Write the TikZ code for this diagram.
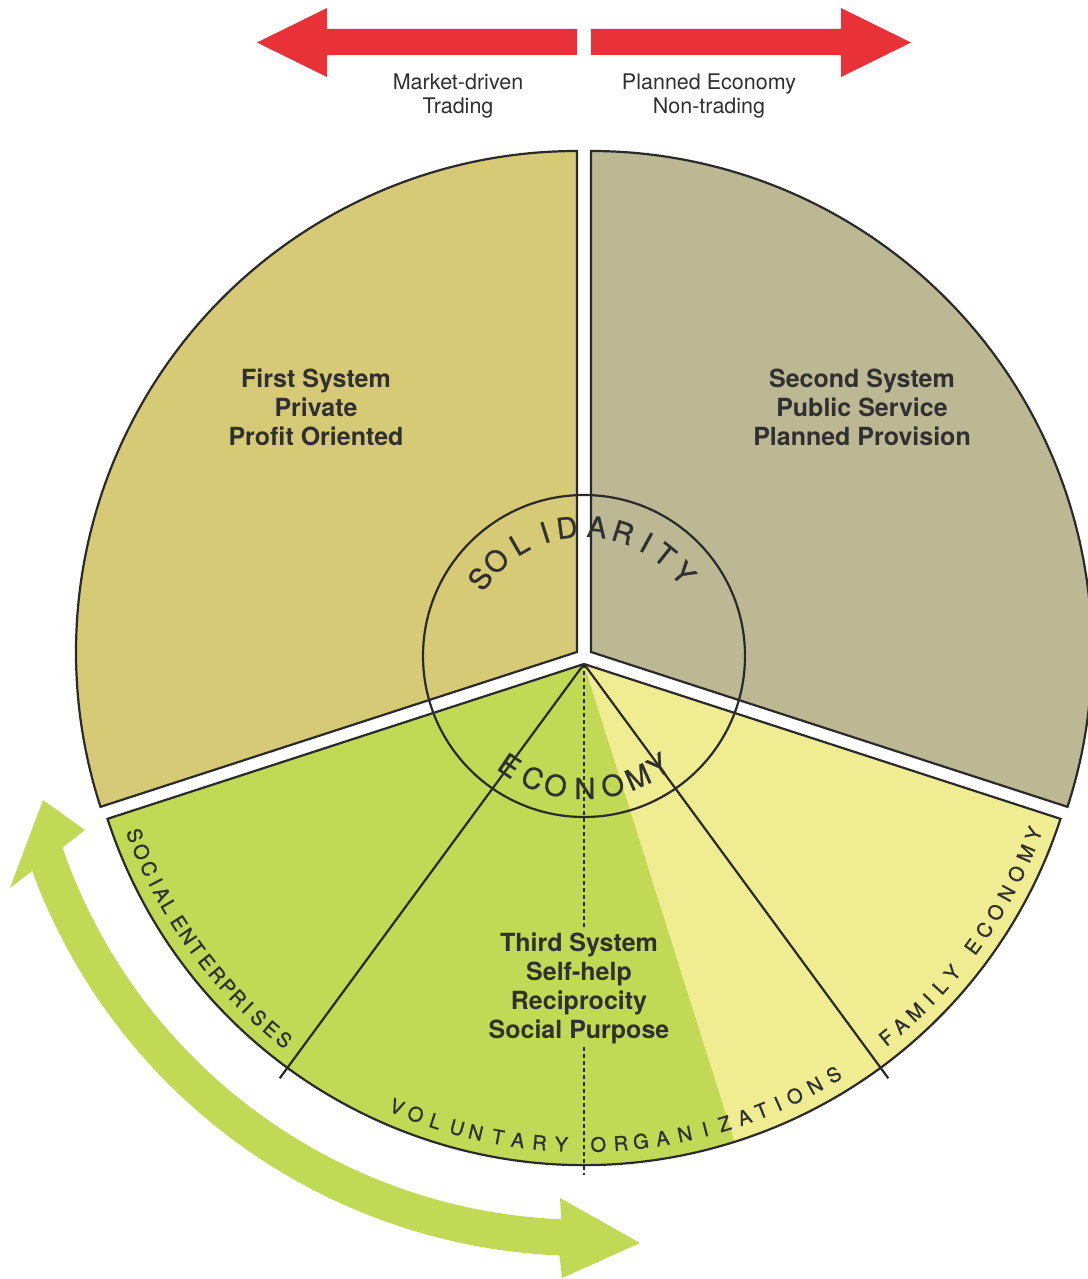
\documentclass[tikz,border=0pt]{standalone}
\usepackage{fontspec}
\setmainfont{TeX Gyre Heros}
\newfontfamily\letterfont[FakeBold=0.8]{TeX Gyre Heros}
\definecolor{tanc}{HTML}{D7CA76}
\definecolor{grayc}{HTML}{BCB894}
\definecolor{greenc}{HTML}{C2D956}
\definecolor{yellowc}{HTML}{F0EC92}
\definecolor{redc}{HTML}{E93238}
\definecolor{inkc}{HTML}{2A2A2A}
\definecolor{textc}{HTML}{303030}
\tikzset{
 sectorline/.style={draw=inkc, line width=2.2pt, line join=miter},
 divider/.style={draw=inkc, line width=2.2pt},
 dashdiv/.style={draw=inkc, line width=2.4pt, dash pattern=on 4pt off 3pt},
 ring/.style={draw=inkc, line width=2.2pt},
 bigtext/.style={font=\fontsize{25}{29}\selectfont\bfseries, text=textc, align=center, inner sep=3pt},
 toptext/.style={font=\fontsize{21.5}{24}\selectfont, text=textc, align=center},
 ringletter/.style={font=\letterfont\fontsize{29}{29}\selectfont, text=textc, inner sep=0pt, anchor=base},
 rimletter/.style={font=\letterfont\fontsize{20}{20}\selectfont, text=textc, inner sep=0pt, anchor=base},
}
\begin{document}
\begin{tikzpicture}[x=1pt,y=1pt]
\useasboundingbox (0,0) rectangle (1087,-1279);
\fill[white] (0,0) rectangle (1087,-1279);

% red arrows
\fill[redc] (577,-29) -- (327,-29) -- (327,-8) -- (257,-42.5) -- (327,-77) -- (327,-55) -- (577,-55) -- cycle;
\fill[redc] (591,-29) -- (841,-29) -- (841,-8) -- (911,-42.5) -- (841,-77) -- (841,-55) -- (591,-55) -- cycle;
\node[toptext] (mkt) at (458,-96) {Market-driven\\Trading};
\node[toptext] (plan) at (709,-96) {Planned Economy\\Non-trading};

% apexes and centre
\coordinate (A1) at (577,-652);
\coordinate (A2) at (591,-652);
\coordinate (A3) at (584,-664);
\coordinate (O) at (584,-656);
\coordinate (C) at (584,-668);

% sectors
\filldraw[sectorline, fill=tanc] (A1) -- ++(90:501) arc[start angle=90, end angle=198, radius=501] -- cycle;
\filldraw[sectorline, fill=grayc] (A2) -- ++(-18:501) arc[start angle=-18, end angle=90, radius=501] -- cycle;
\fill[greenc] (A3) -- ++(198:501) arc[start angle=198, end angle=342, radius=501] -- cycle;
\fill[yellowc] (A3) -- ++(287.5:501) arc[start angle=287.5, end angle=342, radius=501] -- cycle;
\draw[sectorline] (A3) -- ++(198:501) arc[start angle=198, end angle=342, radius=501] -- cycle;

% sub-divisions of third system
\coordinate (SEend) at ([shift={(233.7:514)}]A3);
\coordinate (FEend) at ([shift={(306.3:514)}]A3);
\coordinate (DEnd) at (584,-1175);
\draw[divider] (A3) -- (SEend);
\draw[divider] (A3) -- (FEend);

\node[bigtext] (first) at (316,-407) {First System\\Private\\Profit Oriented};
\node[bigtext] (second) at (862,-407) {Second System\\Public Service\\Planned Provision};
\node[bigtext] (third) at (579,-988) {Third System\\Self-help\\Reciprocity\\Social Purpose};
\draw[dashdiv] (A3) -- (A3 |- third.north);
\draw[dashdiv] (A3 |- third.south) -- (DEnd);

% inner ring
\draw[ring] (O) circle[radius=161];
\foreach \ch/\a [count=\i] in {S/143.3,O/132.8,L/120,I/107.6,D/97.6,A/84.2,R/72.4,I/61.2,T/51.4,Y/39.8}
  \node[ringletter, rotate=\a-90] (sol\i) at ([shift={(\a:119)}]O) {\ch};
\foreach \ch/\a [count=\i] in {E/235.8,C/247.2,O/257.6,N/270.4,O/282.5,M/294,Y/304.2}
  \node[ringletter, rotate=\a+90] (eco\i) at ([shift={(\a:143)}]O) {\ch};

% rim labels
\foreach \ch/\a [count=\i] in {S/200.9,O/203.0,C/205.2,I/207.0,A/208.6,L/210.3,E/212.6,N/214.5,T/216.3,E/218.3,R/220.3,P/222.2,R/224.0,I/225.6,S/227.4,E/229.4,S/231.4}
  \node[rimletter, rotate=\a+90] (se\i) at ([shift={(\a:488)}]A3) {\ch};
\foreach \ch/\a [count=\i] in {V/247.1,O/249.5,L/252.0,U/254.7,N/257.0,T/259.7,A/262.1,R/264.7,Y/267.3,O/271.7,R/274.4,G/276.8,A/279.4,N/282.1,I/284.6,Z/287.0,A/289.5,T/291.7,I/293.8,O/296.0,N/298.7,S/301.3}
  \node[rimletter, rotate=\a+90] (vo\i) at ([shift={(\a:488)}]A3) {\ch};
\foreach \ch/\a [count=\i] in {F/309.0,A/311.2,M/313.6,I/315.8,L/317.8,Y/320.0,E/324.0,C/326.4,O/328.9,N/331.5,O/334.1,M/336.8,Y/339.3}
  \node[rimletter, rotate=\a+90] (fe\i) at ([shift={(\a:488)}]A3) {\ch};

% green double arrow
\fill[greenc] (62.5,-847.5) arc[start angle=199.0, end angle=267.6, radius=552]
  -- (560,-1198) -- (640,-1243) -- (562,-1278)
  -- ([shift={(267.6:588)}]C) arc[start angle=267.6, end angle=200.2, radius=588]
  -- (10,-888) -- (43,-800) -- (85,-830) -- cycle;
\end{tikzpicture}
\end{document}
